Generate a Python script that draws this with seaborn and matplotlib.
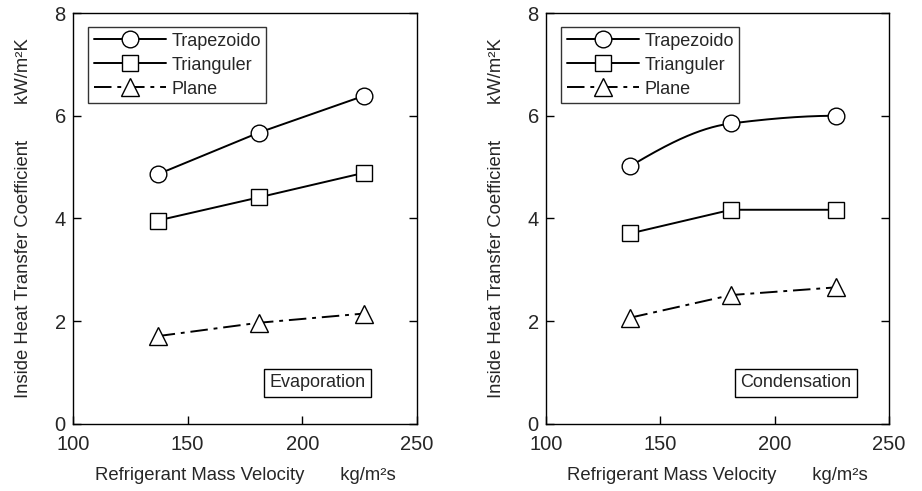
import numpy as np
import pandas as pd
import matplotlib
matplotlib.use("Agg")
import matplotlib.pyplot as plt
from matplotlib.lines import Line2D
import seaborn as sns

# data
velocity = [137, 181, 227]
series = ["Trapezoido", "Triangular", "Plane"]
labels = ["Trapezoido", "Trianguler", "Plane"]
evap_trap = [4.86, 5.67, 6.39]
evap_tri = [3.96, 4.41, 4.89]
evap_plane = [1.71, 1.97, 2.15]
cond_trap = [5.02, 5.85, 6.00]
cond_tri = [3.71, 4.17, 4.17]
cond_plane = [2.07, 2.51, 2.66]

sns.set_style("white")
plt.rcParams["font.family"] = ["Liberation Sans", "DejaVu Sans"]

markers = {"Trapezoido": "o", "Triangular": "s", "Plane": "^"}
msizes = {"Trapezoido": 12, "Triangular": 11.5, "Plane": 12.5}
dashes = {"Trapezoido": "-", "Triangular": "-", "Plane": (0, (9, 3, 2, 3))}


def pchip(x, y, xs):
    # monotone cubic, only used to draw the smoothed line
    x = np.asarray(x, float)
    y = np.asarray(y, float)
    h = np.diff(x)
    d = np.diff(y) / h
    m = np.zeros_like(y)
    for k in range(1, len(x) - 1):
        if d[k - 1] * d[k] > 0:
            w1 = 2 * h[k] + h[k - 1]
            w2 = h[k] + 2 * h[k - 1]
            m[k] = (w1 + w2) / (w1 / d[k - 1] + w2 / d[k])
    m0 = ((2 * h[0] + h[1]) * d[0] - h[0] * d[1]) / (h[0] + h[1])
    m[0] = m0 if np.sign(m0) == np.sign(d[0]) else 0
    mn = ((2 * h[-1] + h[-2]) * d[-1] - h[-1] * d[-2]) / (h[-1] + h[-2])
    m[-1] = mn if np.sign(mn) == np.sign(d[-1]) else 0
    out = []
    for v in xs:
        k = min(np.searchsorted(x, v, side="right") - 1, len(x) - 2)
        t = (v - x[k]) / h[k]
        h00 = 2 * t**3 - 3 * t**2 + 1
        h10 = t**3 - 2 * t**2 + t
        h01 = -2 * t**3 + 3 * t**2
        h11 = t**3 - t**2
        out.append(h00 * y[k] + h10 * h[k] * m[k] + h01 * y[k + 1] + h11 * h[k] * m[k + 1])
    return np.array(out)


fig = plt.figure(figsize=(9.22, 4.91), dpi=100)
ax1 = fig.add_axes([0.0789, 0.1365, 0.3734, 0.837])
ax2 = fig.add_axes([0.5919, 0.1365, 0.3723, 0.837])

panels = [
    (ax1, [evap_trap, evap_tri, evap_plane], "Evaporation", 0.711, []),
    (ax2, [cond_trap, cond_tri, cond_plane], "Condensation", 0.728, ["Trapezoido"]),
]

for ax, vals, tag, tx, smooth in panels:
    for name, yv in zip(series, vals):
        if name in smooth:
            xs = np.linspace(velocity[0], velocity[-1], 200)
            sns.lineplot(x=xs, y=pchip(velocity, yv, xs), ax=ax, color="black",
                         linewidth=1.4, linestyle=dashes[name], legend=False)
            sns.scatterplot(x=velocity, y=yv, ax=ax, marker=markers[name],
                            s=msizes[name] ** 2, facecolor="white", edgecolor="black",
                            linewidth=1.0, legend=False, zorder=3)
        else:
            sns.lineplot(x=velocity, y=yv, ax=ax, color="black", linewidth=1.4,
                         linestyle=dashes[name], marker=markers[name],
                         markersize=msizes[name], markerfacecolor="white",
                         markeredgecolor="black", markeredgewidth=1.0, legend=False)

    ax.set_xlim(100, 250)
    ax.set_ylim(0, 8)
    ax.set_xticks([100, 150, 200, 250])
    ax.set_yticks([0, 2, 4, 6, 8])
    ax.tick_params(direction="in", length=6, width=1, labelsize=14.5, color="black",
                   right=True, left=True, bottom=True, top=False)
    ax.tick_params(axis="x", pad=8)
    ax.tick_params(axis="y", pad=5)
    for sp in ax.spines.values():
        sp.set_color("black")
        sp.set_linewidth(1.0)
    ax.set_xlabel("Refrigerant Mass Velocity       kg/m\u00b2s", fontsize=13.3, labelpad=9)
    ax.set_ylabel("Inside Heat Transfer Coefficient       kW/m\u00b2K", fontsize=13.3, labelpad=16)

    handles = [
        Line2D([], [], color="black", linewidth=1.4, linestyle=dashes[n], marker=markers[n],
               markersize=msizes[n], markerfacecolor="white", markeredgecolor="black",
               markeredgewidth=1.0)
        for n in series
    ]
    leg = ax.legend(handles, labels, loc="upper left", bbox_to_anchor=(0.045, 0.965),
                    fontsize=13, frameon=True, fancybox=False, handlelength=4.0,
                    borderpad=0.3, labelspacing=0.38, handletextpad=0.3, borderaxespad=0)
    leg.get_frame().set_edgecolor("black")
    leg.get_frame().set_linewidth(1.0)

    ax.text(tx, 0.1, tag, transform=ax.transAxes, ha="center", va="center", fontsize=13,
            bbox=dict(boxstyle="square,pad=0.3", facecolor="white", edgecolor="black", linewidth=1.0))

fig.savefig("out.png", dpi=100)
